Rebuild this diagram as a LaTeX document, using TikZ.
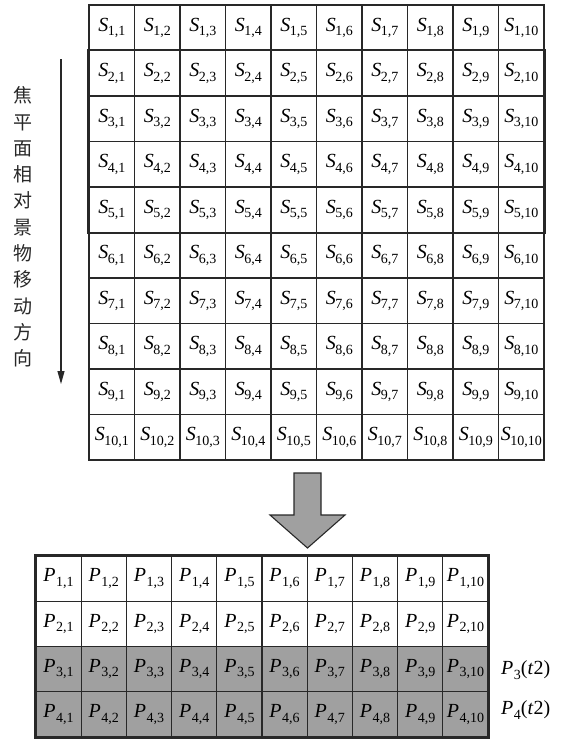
\documentclass[tikz,border=0pt]{standalone}
\usepackage{fontspec}
\setmainfont{Liberation Serif}
\newfontfamily\cjk{Noto Sans CJK SC}
\usetikzlibrary{arrows.meta}
\newcommand\subsc[1]{\raisebox{-0.5ex}{\fontsize{14}{14}\selectfont #1}}
\newcommand\lblS[2]{\textit{S}\kern-0.5pt\subsc{#1,#2}}
\newcommand\lblP[2]{\textit{P}\kern0.5pt\subsc{#1,#2}}
\definecolor{cellgray}{RGB}{160,160,160}
\definecolor{linecol}{RGB}{40,40,40}
\tikzset{
  cellS/.style={draw=linecol, line width=1.1pt, minimum width=45.5pt, minimum height=45.5pt, inner sep=0pt, font=\fontsize{20}{20}\selectfont},
  cellP/.style={draw=linecol, line width=1.1pt, minimum width=45.2pt, minimum height=45.25pt, inner sep=0pt, font=\fontsize{20}{20}\selectfont},
  thickframe/.style={draw=linecol, line width=2.4pt},
}
\begin{document}
\begin{tikzpicture}[x=1pt,y=-1pt]
\useasboundingbox (0,0) rectangle (565,740);
% top grid
\foreach \i in {1,...,10}{
  \foreach \j in {1,...,10}{
    \node[cellS] (s-\i-\j) at ({89+45.5*(\j-0.5)},{5+45.5*(\i-0.5)}) {\lblS{\i}{\j}};
  }
}
\draw[draw=linecol, line width=1.3pt] (s-1-1.north west) rectangle (s-10-10.south east);
\draw[thickframe] (s-2-1.north west) rectangle (s-5-10.south east);
% left arrow and text
\coordinate (arrS) at (61,59);
\coordinate (arrE) at (61,384);
\draw[linecol, line width=1.1pt, -{Triangle[length=13pt,width=7pt]}] (arrS) -- (arrE);
\node[font=\cjk\fontsize{19}{26.3}\selectfont, align=center, text=linecol] (dir) at (23,227) {焦\\平\\面\\相\\对\\景\\物\\移\\动\\方\\向};
% big arrow
\draw[draw=linecol, fill=cellgray, line width=1.1pt] (294,473) -- (321,473) -- (321,515) -- (345,515) -- (307.5,548) -- (270,515) -- (294,515) -- cycle;
% bottom grid
\foreach \i in {1,...,4}{
  \foreach \j in {1,...,10}{
    \ifnum\i>2
      \node[cellP, fill=cellgray] (p-\i-\j) at ({36+45.2*(\j-0.5)},{556+45.25*(\i-0.5)}) {\lblP{\i}{\j}};
    \else
      \node[cellP] (p-\i-\j) at ({36+45.2*(\j-0.5)},{556+45.25*(\i-0.5)}) {\lblP{\i}{\j}};
    \fi
  }
}
\draw[draw=linecol, line width=2.2pt] (p-1-1.north west) rectangle (p-4-10.south east);
\node[anchor=west, font=\fontsize{20}{20}\selectfont, inner sep=0pt] (l3) at (501,670) {\textit{P}\kern0.5pt\subsc{3}(\textit{t}2)};
\node[anchor=west, font=\fontsize{20}{20}\selectfont, inner sep=0pt] (l4) at (501,710) {\textit{P}\kern0.5pt\subsc{4}(\textit{t}2)};
\end{tikzpicture}
\end{document}
